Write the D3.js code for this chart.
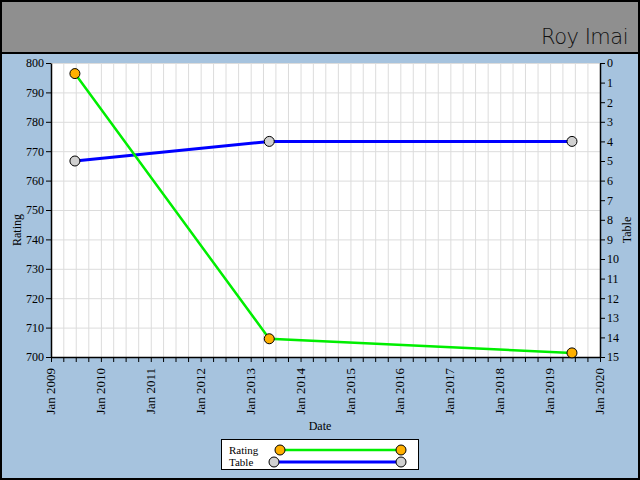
<!DOCTYPE html>
<html><head><meta charset="utf-8">
<script src="https://cdn.jsdelivr.net/npm/d3@7"></script>
<style>
html,body{margin:0;padding:0;background:#fff;}
svg{display:block;}
</style></head>
<body>
<svg id="c" width="640" height="480"></svg>
<script>
const title = "Roy Imai";
const dates = ["2009-06-25", "2013-05-17", "2019-06-10"];
const ratingValues = [796.4, 706.2, 701.4];
const tableValues = [5, 4, 4];
const xDomain = ["2009-01-01", "2020-01-01"];
const ratingTicks = [700, 710, 720, 730, 740, 750, 760, 770, 780, 790, 800];
const tableTicks = [0,1,2,3,4,5,6,7,8,9,10,11,12,13,14,15];
const seriesNames = ["Rating", "Table"];

const parse = d3.timeParse("%Y-%m-%d");
const svg = d3.select("#c");
const W = 640, H = 480;
const m = {l: 51, r: 600, t: 63, b: 357};
const font = "'Liberation Serif', serif";

// backgrounds
svg.append("rect").attr("x",0).attr("y",0).attr("width",W).attr("height",H).attr("fill","#a6c3de");
svg.append("rect").attr("x",0).attr("y",0).attr("width",W).attr("height",53).attr("fill","#8f8f8f");
svg.append("line").attr("x1",0).attr("x2",W).attr("y1",53).attr("y2",53).attr("stroke","#000").attr("stroke-width",2);
svg.append("rect").attr("x",1).attr("y",1).attr("width",W-2).attr("height",H-2).attr("fill","none").attr("stroke","#000").attr("stroke-width",2);

svg.append("text").attr("x",628).attr("y",44).attr("text-anchor","end")
  .attr("font-family","'DejaVu Sans', sans-serif").attr("font-weight",200).attr("font-size",21)
  .attr("letter-spacing",-0.5).attr("fill","#111").text(title);

const x = d3.scaleTime().domain(xDomain.map(parse)).range([m.l, m.r]);
const yR = d3.scaleLinear().domain([700, 800]).range([m.b, m.t]);
const yT = d3.scaleLinear().domain([15, 0]).range([m.b, m.t]);

svg.append("rect").attr("x",m.l).attr("y",m.t).attr("width",m.r-m.l).attr("height",m.b-m.t).attr("fill","#fff");

const qTicks = x.ticks(d3.timeMonth.every(3));
const g = svg.append("g");
g.selectAll("line.vg").data(qTicks).join("line")
  .attr("x1",d=>x(d)+0.5).attr("x2",d=>x(d)+0.5).attr("y1",m.t).attr("y2",m.b)
  .attr("stroke","#dcdcdc").attr("stroke-width",1);
g.selectAll("line.hg").data(ratingTicks).join("line")
  .attr("x1",m.l).attr("x2",m.r).attr("y1",d=>yR(d)+0.5).attr("y2",d=>yR(d)+0.5)
  .attr("stroke","#dcdcdc").attr("stroke-width",1);

// axes
const xAxis = d3.axisBottom(x).tickValues(qTicks).tickSize(5).tickSizeOuter(0)
  .tickFormat(d => d.getMonth() === 0 ? "Jan " + d.getFullYear() : "");
const xg = svg.append("g").attr("transform",`translate(0,${m.b})`).call(xAxis);
[xg].forEach(a => a.selectAll("text").attr("font-size",13));

const ylg = svg.append("g").attr("transform",`translate(${m.l},0)`)
  .call(d3.axisLeft(yR).tickValues(ratingTicks).tickSize(5).tickSizeOuter(0));
const yrg = svg.append("g").attr("transform",`translate(${m.r},0)`)
  .call(d3.axisRight(yT).tickValues(tableTicks).tickSize(5).tickSizeOuter(0));
[xg, ylg, yrg].forEach(a => {
  a.selectAll("text").attr("font-family",font).attr("font-size",12).attr("fill","#000");
  a.selectAll("line").attr("stroke","#000");
  a.select(".domain").attr("stroke","#000").attr("stroke-width",1.5);
});
xg.selectAll("text").attr("font-size",13).attr("transform","rotate(-90)").attr("text-anchor","end")
  .attr("x",-11).attr("y",-1).attr("dy","0.35em");
ylg.selectAll("text").attr("x",-7);
yrg.selectAll("text").attr("x",7);

svg.append("text").attr("transform","translate(21,230) rotate(-90)").attr("text-anchor","middle")
  .attr("font-family",font).attr("font-size",12).text("Rating");
svg.append("text").attr("transform","translate(631,230) rotate(-90)").attr("text-anchor","middle")
  .attr("font-family",font).attr("font-size",12).text("Table");
svg.append("text").attr("x",320).attr("y",430).attr("text-anchor","middle")
  .attr("font-family",font).attr("font-size",12).text("Date");

// series
const rData = dates.map((d,i)=>({d:parse(d), v:ratingValues[i]}));
const tData = dates.map((d,i)=>({d:parse(d), v:tableValues[i]}));
const lineR = d3.line().x(d=>x(d.d)).y(d=>yR(d.v));
const lineT = d3.line().x(d=>x(d.d)).y(d=>yT(d.v));
svg.append("path").attr("d",lineT(tData)).attr("fill","none").attr("stroke","#0000ff").attr("stroke-width",3);
svg.append("path").attr("d",lineR(rData)).attr("fill","none").attr("stroke","#00ee00").attr("stroke-width",2.5);
svg.selectAll("circle.t").data(tData).join("circle")
  .attr("cx",d=>x(d.d)).attr("cy",d=>yT(d.v)).attr("r",5)
  .attr("fill","#d0d0d0").attr("stroke","#000").attr("stroke-width",1);
svg.selectAll("circle.r").data(rData).join("circle")
  .attr("cx",d=>x(d.d)).attr("cy",d=>yR(d.v)).attr("r",5)
  .attr("fill","#ffb000").attr("stroke","#000").attr("stroke-width",1);

// legend
const lg = svg.append("g");
lg.append("rect").attr("x",221.5).attr("y",439.5).attr("width",197).attr("height",30)
  .attr("fill","#fff").attr("stroke","#000").attr("stroke-width",1);
const legItems = [
  {name: seriesNames[0], y: 450, x1: 280, x2: 401, color: "#00ee00", fill: "#ffb000", sw: 2.5},
  {name: seriesNames[1], y: 462, x1: 274, x2: 401, color: "#0000ff", fill: "#d0d0d0", sw: 3}
];
legItems.forEach(it => {
  lg.append("text").attr("x",229).attr("y",it.y+3.5).attr("font-family",font).attr("font-size",11).text(it.name);
  lg.append("line").attr("x1",it.x1).attr("x2",it.x2).attr("y1",it.y).attr("y2",it.y)
    .attr("stroke",it.color).attr("stroke-width",it.sw);
  [it.x1, it.x2].forEach(cx => lg.append("circle").attr("cx",cx).attr("cy",it.y).attr("r",5)
    .attr("fill",it.fill).attr("stroke","#000").attr("stroke-width",1));
});
</script>
</body></html>
